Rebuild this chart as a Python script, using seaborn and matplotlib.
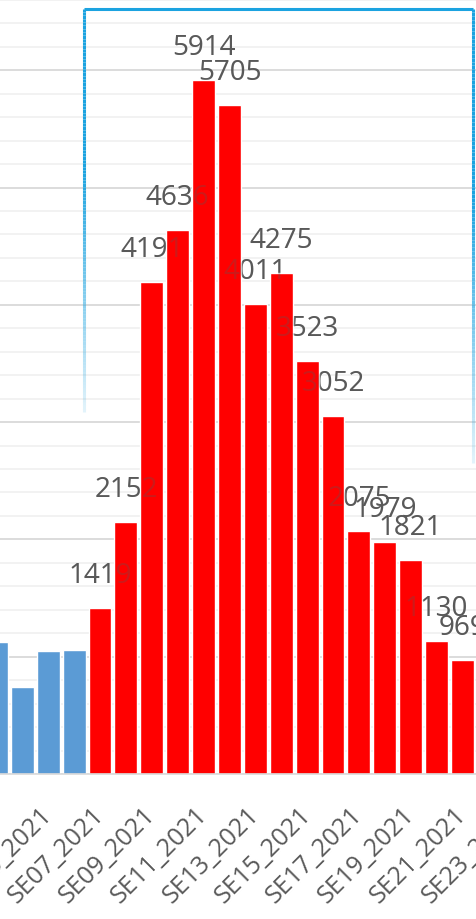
import numpy as np
import pandas as pd
import matplotlib
matplotlib.use("Agg")
import matplotlib.pyplot as plt
from matplotlib.collections import LineCollection
from matplotlib.colors import to_rgba
import seaborn as sns

# Weekly case counts (epidemiological weeks of 2021)
weeks = ["SE03_2021", "SE04_2021", "SE05_2021", "SE06_2021", "SE07_2021",
         "SE08_2021", "SE09_2021", "SE10_2021", "SE11_2021", "SE12_2021",
         "SE13_2021", "SE14_2021", "SE15_2021", "SE16_2021", "SE17_2021",
         "SE18_2021", "SE19_2021", "SE20_2021", "SE21_2021", "SE22_2021",
         "SE23_2021"]
cases = [1125, 742, 1049, 1057, 1419, 2152, 4191, 4636, 5914, 5705,
         4011, 4275, 3523, 3052, 2075, 1979, 1821, 1130, 969]
phase = ["base"] * 4 + ["wave"] * 15
palette = {"base": "#5B9BD5", "wave": "#FF0000"}

df = pd.DataFrame({"week": weeks[:len(cases)], "cases": cases, "phase": phase})

sns.set_style("white")
plt.rcParams["font.family"] = ["Open Sans", "DejaVu Sans"]

W, H, DPI = 476, 919, 100
fig = plt.figure(figsize=(W / DPI, H / DPI), dpi=DPI)

# axes geometry in pixels: category slot width and vertical scale
slot = 25.89
x_first_wave = 100.0          # centre of SE07 bar
base_y = 774.0                # baseline from top
ppu = 0.1173                  # pixels per case
xlo, xhi = -0.5, 21.5
ylo, yhi = 0, 6800
left_px = x_first_wave + (xlo - 4) * slot
right_px = x_first_wave + (xhi - 4) * slot
ax = fig.add_axes([left_px / W, (H - base_y) / H,
                   (right_px - left_px) / W, (yhi - ylo) * ppu / H])

sns.barplot(data=df, x="week", y="cases", hue="phase", palette=palette,
            order=weeks, dodge=False, width=0.885, saturation=1,
            legend=False, ax=ax, zorder=2)

ax.set_xlabel("")
ax.set_ylabel("")

# gridlines: light every 200, darker every 1000
ax.set_yticks(np.arange(0, 7001, 1000))
ax.set_yticks(np.arange(0, 7001, 200), minor=True)
ax.set_xlim(xlo, xhi)
ax.set_ylim(ylo, yhi)
ax.yaxis.grid(True, which="major", color="#D9D9D9", lw=1.3, zorder=0)
ax.yaxis.grid(True, which="minor", color="#EFEFEF", lw=1.1, zorder=0)
ax.set_axisbelow(True)
ax.tick_params(axis="y", which="both", length=0, labelleft=False)
for s in ["top", "right", "left"]:
    ax.spines[s].set_visible(False)
ax.spines["bottom"].set_color("#D9D9D9")
ax.spines["bottom"].set_linewidth(1.2)

# category labels for odd weeks
ax.set_xticks(range(0, len(weeks), 2))
ax.set_xticklabels(weeks[0::2], rotation=45, ha="right", va="center",
                   rotation_mode="anchor", fontsize=18, color="#595959")
ax.tick_params(axis="x", length=0, pad=27)

# value labels above the wave bars; the bars cover them where they overlap
for i, (v, p) in enumerate(zip(cases, phase)):
    if p != "wave":
        continue
    for z, a in ((1, 1.0), (3, 0.3)):
        ax.annotate(str(v), xy=(i, v), xytext=(0, 18),
                    textcoords="offset points", ha="center", va="baseline",
                    fontsize=20, color="#595959", alpha=a, zorder=z)

# highlight frame around the epidemic wave, fading downwards
def fading_side(x, y_top, y_solid, y_end, n=120):
    ys = np.linspace(y_top, y_end, n + 1)
    segs, cols = [], []
    for a, b in zip(ys[:-1], ys[1:]):
        m = 0.5 * (a + b)
        if m <= y_solid:
            al = 1.0
        else:
            al = 1.0 - 0.88 * (m - y_solid) / (y_end - y_solid)
        segs.append([(x / W, 1 - a / H), (x / W, 1 - b / H)])
        cols.append(to_rgba("#1CA3E0", al))
    return segs, cols

frame_l, frame_r, frame_t = 83.5, 473.0, 8.5
s1, c1 = fading_side(frame_l, frame_t, 170, 412)
s2, c2 = fading_side(frame_r, frame_t, 200, 463)
top = [[(frame_l / W, 1 - frame_t / H), (frame_r / W, 1 - frame_t / H)]]
lc = LineCollection(top + s1 + s2, colors=[to_rgba("#1CA3E0", 1.0)] + c1 + c2,
                    linewidths=2.2, transform=fig.transFigure, zorder=5,
                    capstyle="butt")
fig.add_artist(lc)

fig.savefig("out.png", dpi=DPI)
